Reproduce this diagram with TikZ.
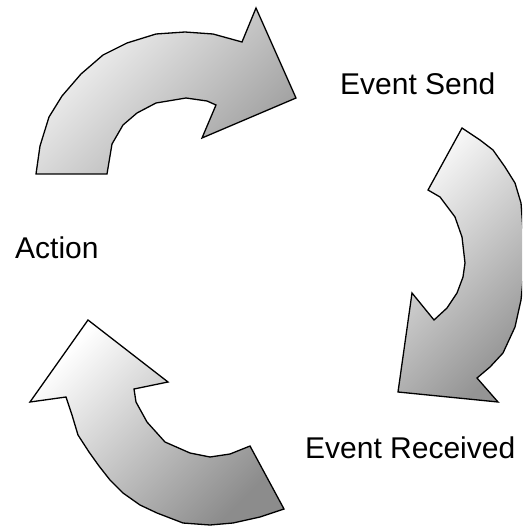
\documentclass[tikz,border=0pt]{standalone}
\usepackage{fontspec}
\setmainfont{Liberation Sans}
\begin{document}
\begin{tikzpicture}[x=1pt,y=-1pt,
  cyclearrow/.style 2 args={draw=black,line width=1.3pt,line join=miter,shading=axis,top color=#1,bottom color=#2,shading angle=45},
  lbl/.style={anchor=base west,inner sep=0pt,font=\fontsize{30}{36}\selectfont}]
\useasboundingbox (0,0) rectangle (522,526);
\clip (0,0) rectangle (522,526);
% top arrow
\path[cyclearrow={black!3}{black!38}] (36,174) -- (40,146) -- (49,117) -- (62,96) -- (81,74) -- (103,55) -- (127,43) -- (156,34) -- (185,32) -- (213,34) -- (242,42) -- (256,8) -- (296,98) -- (202,138) -- (216,105) -- (207,101) -- (186,98) -- (156,103) -- (137,113) -- (123,125) -- (112,144) -- (107,174) -- cycle;
% right arrow
\path[cyclearrow={black!2}{black!42}] (462,128) -- (480,140) -- (493,150) -- (505,167) -- (515,183) -- (521,203) -- (523,230) -- (524,255) -- (523,280) -- (521,300) -- (515,327) -- (503,353) -- (490,367) -- (477,378) -- (498,402) -- (398,392) -- (412,293) -- (434,320) -- (447,308) -- (457,293) -- (463,277) -- (465,263) -- (462,237) -- (455,217) -- (440,197) -- (428,190) -- cycle;
% bottom arrow
\path[cyclearrow={white}{black!45}] (88,320) -- (168,382) -- (134,389) -- (136,402) -- (147,422) -- (165,442) -- (190,453) -- (210,457) -- (230,454) -- (250,446) -- (284,509) -- (260,517) -- (233,523) -- (210,525) -- (183,523) -- (157,513) -- (140,505) -- (123,493) -- (110,480) -- (99,466) -- (89,452) -- (78,435) -- (72,415) -- (66,397) -- (30,402) -- cycle;
\node[lbl] (send) at (340,95) {Event Send};
\node[lbl] (action) at (15,258) {Action};
\node[lbl] (recv) at (305,458) {Event Received};
\end{tikzpicture}
\end{document}
